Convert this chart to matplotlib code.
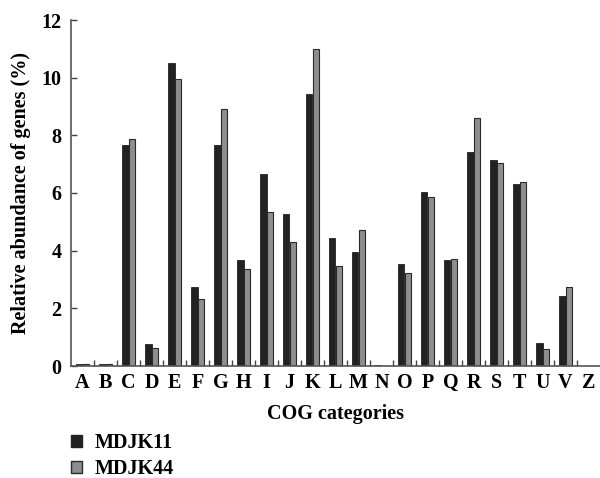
import numpy as np
import matplotlib
matplotlib.use("Agg")
import matplotlib.pyplot as plt
from matplotlib.patches import Patch

# COG category abundances (%)
categories = ['A', 'B', 'C', 'D', 'E', 'F', 'G', 'H', 'I', 'J', 'K', 'L',
              'M', 'N', 'O', 'P', 'Q', 'R', 'S', 'T', 'U', 'V', 'Z']
mdjk11 = [0.06, 0.06, 7.67, 0.77, 10.50, 2.75, 7.66, 3.67, 6.65, 5.26, 9.44, 4.45,
          3.94, 0.05, 3.55, 6.04, 3.67, 7.41, 7.15, 6.32, 0.81, 2.44, 0.0]
mdjk44 = [0.06, 0.06, 7.86, 0.62, 9.97, 2.32, 8.93, 3.38, 5.35, 4.31, 10.98, 3.48,
          4.71, 0.0, 3.24, 5.85, 3.72, 8.59, 7.04, 6.38, 0.59, 2.73, 0.0]
yticks = [0, 2, 4, 6, 8, 10, 12]

plt.rcParams['font.family'] = ['Liberation Serif', 'DejaVu Serif']
plt.rcParams['font.weight'] = 'bold'

fig = plt.figure(figsize=(6.0, 4.78), dpi=100)
ax = fig.add_axes([71 / 600, 1 - 366 / 478, 1 - 71 / 600, (366 - 20) / 478])

x = np.arange(len(categories))
w = 0.28
ax.bar(x - w / 2, mdjk11, w, color='#222222', edgecolor='#222222', linewidth=0.6)
ax.bar(x + w / 2, mdjk44, w, color='#8e8e90', edgecolor='#2a2a2a', linewidth=0.8)

ax.set_xlim(-0.5, len(categories) - 0.5)
ax.set_ylim(0, 12)

for s in ['top', 'right']:
    ax.spines[s].set_visible(False)
for s in ['left', 'bottom']:
    ax.spines[s].set_color('#555555')
    ax.spines[s].set_linewidth(1.2)

ax.set_yticks(yticks)
ax.set_yticklabels([str(v) for v in yticks], fontsize=14.5, fontweight='bold')
ax.tick_params(axis='y', direction='in', length=4, width=1, color='#444444', pad=7)

ax.set_xticks(x)
ax.set_xticklabels(categories, fontsize=14.5, fontweight='bold')
ax.tick_params(axis='x', which='major', length=0, pad=5)
ax.set_xticks(np.arange(0.5, len(categories) - 1, 1), minor=True)
ax.tick_params(axis='x', which='minor', direction='in', length=4, width=1, color='#444444')

ax.set_ylabel('Relative abundance of genes (%)', fontsize=14.5, fontweight='bold', labelpad=7)
ax.set_xlabel('COG categories', fontsize=14.5, fontweight='bold', labelpad=8)

handles = [Patch(facecolor='#222222', edgecolor='#222222'),
           Patch(facecolor='#8e8e90', edgecolor='#2a2a2a')]
fig.legend(handles, ['MDJK11', 'MDJK44'], loc='upper left',
           bbox_to_anchor=(63 / 600, 1 - 425 / 478), frameon=False,
           prop={'size': 14.5, 'weight': 'bold'}, handlelength=0.55, handleheight=0.55,
           handletextpad=0.6, labelspacing=0.3, borderaxespad=0)

fig.savefig('out.png', dpi=100)
